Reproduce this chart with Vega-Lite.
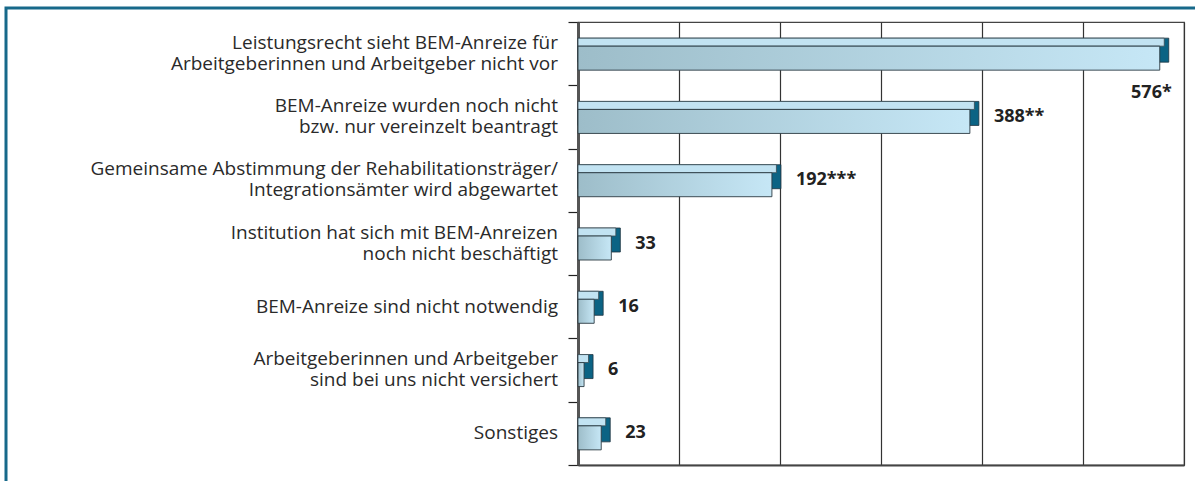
{
  "$schema": "https://vega.github.io/schema/vega-lite/v6.json",
  "width": 606,
  "height": 443,
  "autosize": {"type": "none"},
  "padding": {"left": 578, "top": 22, "right": 11, "bottom": 16},
  "background": "white",
  "data": {
    "values": [
      {"grund": "Leistungsrecht sieht BEM-Anreize für |Arbeitgeberinnen und Arbeitgeber nicht vor", "anzahl": 576, "label": "576*"},
      {"grund": "BEM-Anreize wurden noch nicht|bzw. nur vereinzelt beantragt", "anzahl": 388, "label": "388**"},
      {"grund": "Gemeinsame Abstimmung der Rehabilitationsträger/|Integrationsämter wird abgewartet", "anzahl": 192, "label": "192***"},
      {"grund": "Institution hat sich mit BEM-Anreizen|noch nicht beschäftigt", "anzahl": 33, "label": "33"},
      {"grund": "BEM-Anreize sind nicht notwendig", "anzahl": 16, "label": "16"},
      {"grund": "Arbeitgeberinnen und Arbeitgeber|sind bei uns nicht versichert", "anzahl": 6, "label": "6"},
      {"grund": "Sonstiges", "anzahl": 23, "label": "23"}
    ]
  },
  "encoding": {
    "y": {
      "field": "grund",
      "type": "nominal",
      "sort": null,
      "scale": {"paddingInner": 0, "paddingOuter": 0},
      "axis": {
        "title": null,
        "labels": false,
        "tickBand": "extent",
        "tickSize": 10,
        "tickColor": "#222",
        "tickWidth": 1.2,
        "domainColor": "#555",
        "domainWidth": 3,
        "grid": false
      }
    },
    "x": {
      "field": "anzahl",
      "type": "quantitative",
      "scale": {"domain": [0, 600], "nice": false},
      "axis": {
        "title": null,
        "labels": false,
        "values": [0, 100, 200, 300, 400, 500, 600],
        "ticks": false,
        "grid": true,
        "gridColor": "#333",
        "gridWidth": 1.2,
        "domainColor": "#444",
        "domainWidth": 2
      }
    }
  },
  "layer": [
    {
      "mark": {"type": "point", "opacity": 0, "filled": true},
      "encoding": {
        "color": {
          "field": "anzahl",
          "type": "quantitative",
          "scale": {"range": ["rgba(255,255,255,0)", "rgba(255,255,255,0)"]},
          "legend": {
            "type": "gradient",
            "orient": "none",
            "legendX": -572,
            "legendY": -14,
            "direction": "horizontal",
            "gradientLength": 1210,
            "gradientThickness": 490,
            "gradientStrokeColor": "#17698a",
            "gradientStrokeWidth": 3,
            "labels": false,
            "title": null,
            "padding": 0
          }
        }
      }
    },
    {
      "mark": {"type": "bar", "height": 24, "yOffset": -3.5, "xOffset": 9, "color": "#0b6384", "stroke": "#1f3440", "strokeWidth": 0.8},
      "encoding": {"x2": {"datum": 0}}
    },
    {
      "mark": {"type": "bar", "height": 8, "yOffset": -11.5, "xOffset": 4.5, "color": "#c2e3f2", "stroke": "#3a4a52", "strokeWidth": 0.8},
      "encoding": {"x2": {"datum": 0}}
    },
    {
      "mark": {
        "type": "bar",
        "height": 24,
        "yOffset": 4.5,
        "stroke": "#2b3a42",
        "strokeWidth": 0.9,
        "color": {
          "gradient": "linear",
          "x1": 0, "x2": 1, "y1": 0, "y2": 0,
          "stops": [
            {"offset": 0, "color": "#9dbdc9"},
            {"offset": 1, "color": "#c6e7f6"}
          ]
        }
      },
      "encoding": {"x2": {"datum": 0}}
    },
    {
      "transform": [{"filter": "indexof(datum.grund, '|') >= 0"}],
      "mark": {"type": "text", "align": "right", "baseline": "line-bottom", "lineBreak": "|", "lineHeight": 21, "dx": -20, "font": "Open Sans", "fontSize": 19, "color": "#2a2a2a"},
      "encoding": {"x": {"datum": 0}, "text": {"field": "grund"}}
    },
    {
      "transform": [{"filter": "indexof(datum.grund, '|') < 0"}],
      "mark": {"type": "text", "align": "right", "baseline": "middle", "dx": -20, "font": "Open Sans", "fontSize": 19, "color": "#2a2a2a"},
      "encoding": {"x": {"datum": 0}, "text": {"field": "grund"}}
    },
    {
      "transform": [{"filter": "datum.anzahl < 500"}],
      "mark": {"type": "text", "align": "left", "baseline": "middle", "dx": 24, "dy": 0, "font": "Open Sans", "fontSize": 18, "fontWeight": "bold", "color": "#222"},
      "encoding": {"text": {"field": "label"}}
    },
    {
      "transform": [{"filter": "datum.anzahl >= 500"}],
      "mark": {"type": "text", "align": "right", "baseline": "middle", "dx": 12, "dy": 39, "font": "Open Sans", "fontSize": 18, "fontWeight": "bold", "color": "#222"},
      "encoding": {"text": {"field": "label"}}
    }
  ],
  "config": {
    "view": {"stroke": "#444", "strokeWidth": 1.2}
  }
}
